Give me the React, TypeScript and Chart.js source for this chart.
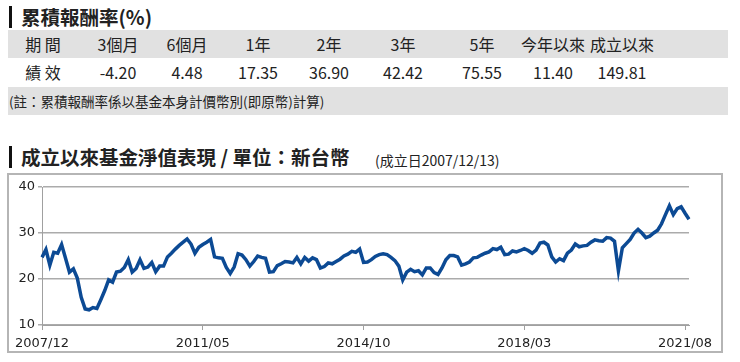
import React, { useEffect, useRef } from "react";
import { Chart, registerables } from "chart.js";

Chart.register(...registerables);

const periodHeaders = ["期 間", "3個月", "6個月", "1年", "2年", "3年", "5年", "今年以來", "成立以來"];
const periodReturns = ["績 效", "-4.20", "4.48", "17.35", "36.90", "42.42", "75.55", "11.40", "149.81"];
const columnCenters = [43, 118, 187, 258, 329, 403, 482, 553, 622];

const startYear = 2007;
const startMonth = 12;
const tickEvery = 41;

const navValues = [
  24.7, 26.4, 23.0, 25.8, 25.6, 27.5, 24.5, 21.5, 22.2, 20.2,
  16.0, 13.5, 13.3, 13.8, 13.6, 15.5, 17.5, 19.8, 19.3, 21.5,
  21.7, 22.5, 24.2, 21.5, 22.3, 24.2, 22.3, 22.6, 23.6, 21.6,
  22.8, 22.8, 24.8, 25.6, 26.5, 27.3, 28.0, 28.7, 27.6, 25.6,
  26.9, 27.5, 28.0, 28.6, 24.8, 24.6, 24.5, 22.5, 21.2, 22.6,
  25.5, 25.2, 24.2, 22.8, 23.8, 25.0, 24.7, 24.5, 21.5, 21.6,
  22.9, 23.3, 23.8, 23.7, 23.5, 24.7, 23.3, 24.7, 23.9, 24.6,
  24.2, 22.4, 22.7, 23.5, 23.3, 23.8, 24.3, 25.0, 25.4, 26.0,
  25.8, 26.5, 23.6, 23.7, 24.2, 24.9, 25.3, 25.5, 25.3, 24.7,
  24.0, 22.8, 19.8, 21.5, 22.1, 21.6, 21.8, 20.9, 22.4, 22.4,
  21.4, 21.0, 22.4, 24.2, 25.1, 25.1, 24.8, 23.0, 23.3, 23.7,
  24.6, 24.7, 25.2, 25.6, 25.9, 26.6, 26.4, 26.9, 25.3, 25.4,
  26.1, 25.9, 26.2, 26.6, 26.2, 25.6, 26.3, 27.8, 28.0, 27.4,
  24.8, 23.7, 24.4, 24.0, 25.6, 26.3, 27.6, 27.0, 27.2, 27.3,
  28.0, 28.5, 28.3, 28.2, 29.0, 28.9, 28.2, 21.8, 26.8, 27.7,
  28.6, 30.0, 30.8, 30.0, 29.0, 29.3, 30.0, 30.6, 32.0, 34.0,
  35.9, 34.0, 35.3, 35.7, 34.3, 33.0,
];

const monthLabels = navValues.map((_, i) => {
  const total = startYear * 12 + (startMonth - 1) + i;
  const y = Math.floor(total / 12);
  const m = (total % 12) + 1;
  return `${y}/${m < 10 ? "0" + m : m}`;
});

const yTicks = [10, 20, 30, 40];

const CJK = '"Noto Sans CJK TC", "Noto Sans", sans-serif';

function NavChart() {
  const ref = useRef<HTMLCanvasElement | null>(null);
  useEffect(() => {
    if (!ref.current) return;
    const chart = new Chart(ref.current, {
      type: "line",
      data: {
        labels: monthLabels,
        datasets: [
          {
            data: navValues,
            borderColor: "#0c4a94",
            borderWidth: 3.5,
            pointRadius: 0,
            tension: 0,
            fill: false,
          },
        ],
      },
      options: {
        animation: false,
        responsive: false,
        maintainAspectRatio: false,
        layout: { padding: { top: 12, right: 32, left: 0, bottom: 0 } },
        plugins: { legend: { display: false }, tooltip: { enabled: false } },
        scales: {
          x: {
            type: "category",
            offset: false,
            afterFit: (s: any) => {
              s.height = 26;
            },
            grid: {
              drawOnChartArea: false,
              drawTicks: true,
              tickLength: 5,
              color: "#a0a0a0",
              lineWidth: 1,
            },
            border: { color: "#a0a0a0", width: 1 },
            ticks: {
              autoSkip: false,
              maxRotation: 0,
              minRotation: 0,
              padding: 6,
              color: "#222",
              font: { family: '"DejaVu Sans", sans-serif', size: 13 },
              callback: (_v: any, i: number) => (i % tickEvery === 0 ? monthLabels[i] : null),
            },
          },
          y: {
            min: 10,
            max: 40,
            afterFit: (s: any) => {
              s.width = 33;
            },
            afterBuildTicks: (s: any) => {
              s.ticks = yTicks.map((v) => ({ value: v }));
            },
            grid: {
              color: "#ababab",
              lineWidth: 1.5,
              drawTicks: true,
              tickLength: 4,
            },
            border: { color: "#a0a0a0", width: 1 },
            ticks: {
              padding: 3,
              color: "#222",
              font: { family: '"DejaVu Sans", sans-serif', size: 13 },
            },
          },
        },
      },
    });
    return () => chart.destroy();
  }, []);
  return <canvas ref={ref} width={712} height={176} style={{ display: "block", width: 712, height: 176 }} />;
}

export default function App() {
  const cellStyle = (cx: number, top: number, size: number): React.CSSProperties => ({
    position: "absolute",
    left: cx - 60,
    width: 120,
    top,
    height: 28,
    lineHeight: "28px",
    textAlign: "center",
    fontSize: size,
    color: "#222",
    whiteSpace: "nowrap",
  });
  return (
    <div
      style={{
        position: "absolute",
        left: 0,
        top: 0,
        width: 740,
        height: 362,
        background: "#fff",
        fontFamily: CJK,
        overflow: "hidden",
      }}
    >
      <div style={{ position: "absolute", left: 9, top: 6, width: 3, height: 22, background: "#111" }} />
      <div
        style={{
          position: "absolute",
          left: 21,
          top: 3,
          height: 28,
          lineHeight: "28px",
          fontSize: 19.5,
          fontWeight: 700,
          color: "#222",
          whiteSpace: "nowrap",
        }}
      >
        累積報酬率(%)
      </div>
      <div style={{ position: "absolute", left: 8, top: 30, width: 720, height: 28, background: "#e1e1e1" }} />
      <div style={{ position: "absolute", left: 8, top: 87, width: 720, height: 28, background: "#e1e1e1" }} />
      {periodHeaders.map((h, i) => (
        <div key={"h" + i} style={cellStyle(columnCenters[i], 30, 16)}>
          {h}
        </div>
      ))}
      {periodReturns.map((v, i) => (
        <div key={"v" + i} style={cellStyle(columnCenters[i], 58, 16)}>
          {v}
        </div>
      ))}
      <div
        style={{
          position: "absolute",
          left: 9,
          top: 87,
          height: 28,
          lineHeight: "28px",
          fontSize: 13.5,
          color: "#222",
          whiteSpace: "nowrap",
        }}
      >
        (註：累積報酬率係以基金本身計價幣別(即原幣)計算)
      </div>
      <div style={{ position: "absolute", left: 9, top: 146, width: 3, height: 22, background: "#111" }} />
      <div
        style={{
          position: "absolute",
          left: 21,
          top: 143,
          height: 28,
          lineHeight: "28px",
          fontSize: 19.5,
          fontWeight: 700,
          color: "#222",
          whiteSpace: "nowrap",
        }}
      >
        成立以來基金淨值表現 / 單位：新台幣
      </div>
      <div
        style={{
          position: "absolute",
          left: 375,
          top: 150,
          height: 20,
          lineHeight: "20px",
          fontSize: 14,
          color: "#222",
          whiteSpace: "nowrap",
        }}
      >
        (成立日2007/12/13)
      </div>
      <div
        style={{
          position: "absolute",
          left: 7,
          top: 173,
          width: 712,
          height: 176,
          border: "2px solid #b5b5b5",
        }}
      >
        <NavChart />
      </div>
    </div>
  );
}
